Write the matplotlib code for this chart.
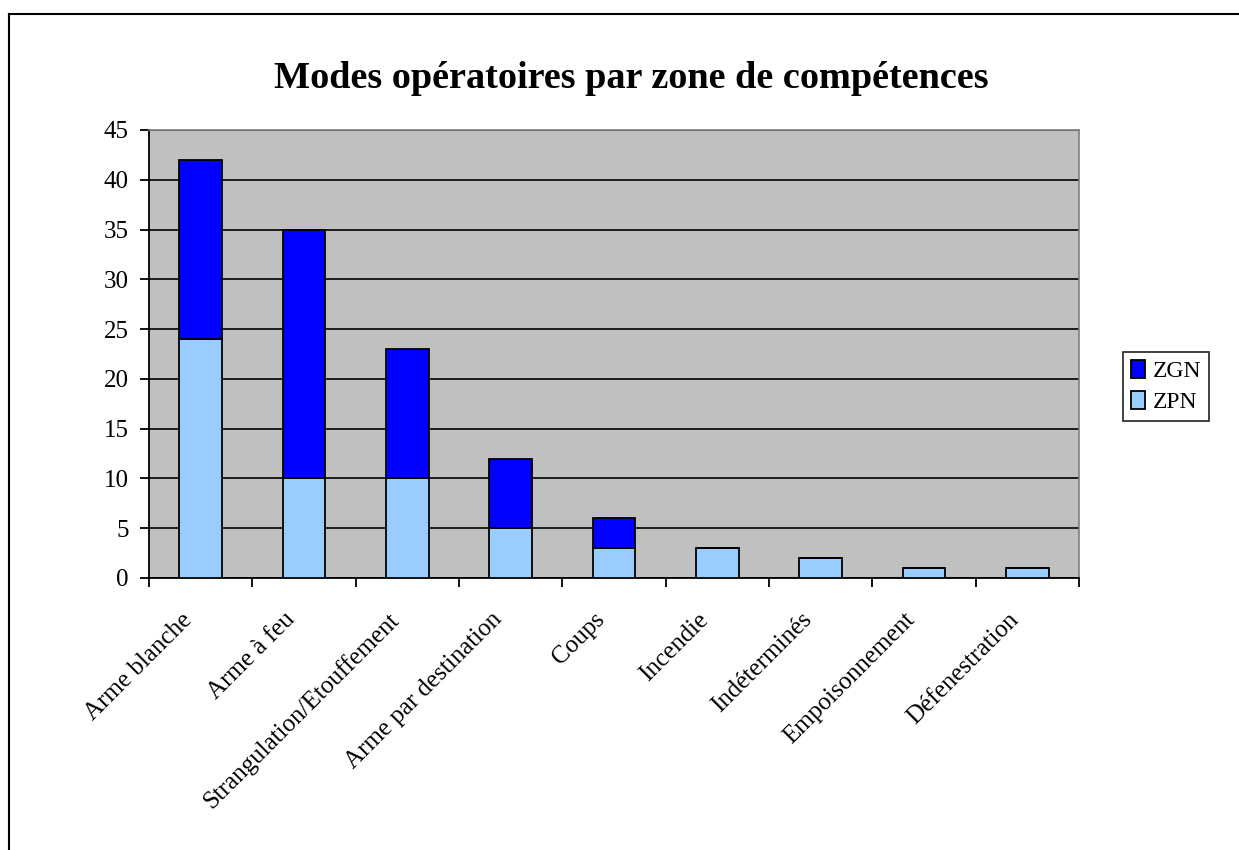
import matplotlib.pyplot as plt
from matplotlib.lines import Line2D
from matplotlib.transforms import ScaledTranslation
import numpy as np

categories = ["Arme blanche", "Arme à feu", "Strangulation/Etouffement",
              "Arme par destination", "Coups", "Incendie", "Indéterminés",
              "Empoisonnement", "Défenestration"]
zpn = [24, 10, 10, 5, 3, 3, 2, 1, 1]
zgn = [18, 25, 13, 7, 3, 0, 0, 0, 0]

plt.rcParams['font.family'] = ['Liberation Serif', 'DejaVu Serif']

fig = plt.figure(figsize=(12.39, 8.5), dpi=100)
ax = fig.add_axes([149 / 1239, 1 - 578 / 850, 930 / 1239, 448 / 850])
ax.set_facecolor('#C0C0C0')

x = np.arange(len(categories)) + 0.5
w = 0.41
ax.bar(x, zpn, w, color='#99CCFF', edgecolor='black', linewidth=1.3, label='ZPN', zorder=3)
ax.bar(x, zgn, w, bottom=zpn, color='#0000FF', edgecolor='black', linewidth=1.3, label='ZGN', zorder=3)

ax.set_xlim(0, len(categories))
ax.set_ylim(0, 45)
ax.set_yticks(range(0, 46, 5))
ax.yaxis.grid(True, color='black', linewidth=1.2, zorder=1)
ax.set_axisbelow(True)

# category boundaries get the tick marks, labels sit at the centres
ax.set_xticks(np.arange(len(categories) + 1))
ax.set_xticklabels([])
ax.set_xticks(x, minor=True)
ax.set_xticklabels(categories, minor=True, rotation=45, ha='right', va='top',
                   rotation_mode='anchor', fontsize=18)
ax.tick_params(axis='x', which='minor', length=0, pad=22)
ax.tick_params(axis='x', which='major', length=6.5, width=1.3, direction='out')
ax.tick_params(axis='y', length=6.5, width=1.3, direction='out', labelsize=18, pad=8)

shift = ScaledTranslation(-20 / 100, 0, fig.dpi_scale_trans)
for lab in ax.get_xticklabels(minor=True):
    lab.set_transform(lab.get_transform() + shift)

for s in ['top', 'right']:
    ax.spines[s].set_color('#808080')
    ax.spines[s].set_linewidth(1.2)
for s in ['left', 'bottom']:
    ax.spines[s].set_color('black')
    ax.spines[s].set_linewidth(1.3)

handles, labels = ax.get_legend_handles_labels()
leg = fig.legend(handles[::-1], labels[::-1], loc='lower left',
                 bbox_to_anchor=(1123 / 1239, 1 - 421 / 850),
                 fontsize=17, frameon=True, fancybox=False, edgecolor='black',
                 handlelength=0.6, handleheight=0.8, handletextpad=0.3,
                 borderpad=0.35, labelspacing=0.35, borderaxespad=0)
leg.get_frame().set_linewidth(1.3)

fig.text(631 / 1239, 1 - 78 / 850, "Modes opératoires par zone de compétences",
         ha='center', va='center', fontsize=27.5, fontweight='bold')

# chart area border (left and top edges visible)
x0 = 9 / 1239
y0 = 1 - 14 / 850
fig.add_artist(Line2D([x0, x0], [0, y0], color='black', linewidth=1.5, transform=fig.transFigure))
fig.add_artist(Line2D([x0, 1], [y0, y0], color='black', linewidth=1.5, transform=fig.transFigure))

fig.savefig('out.png', dpi=100)
